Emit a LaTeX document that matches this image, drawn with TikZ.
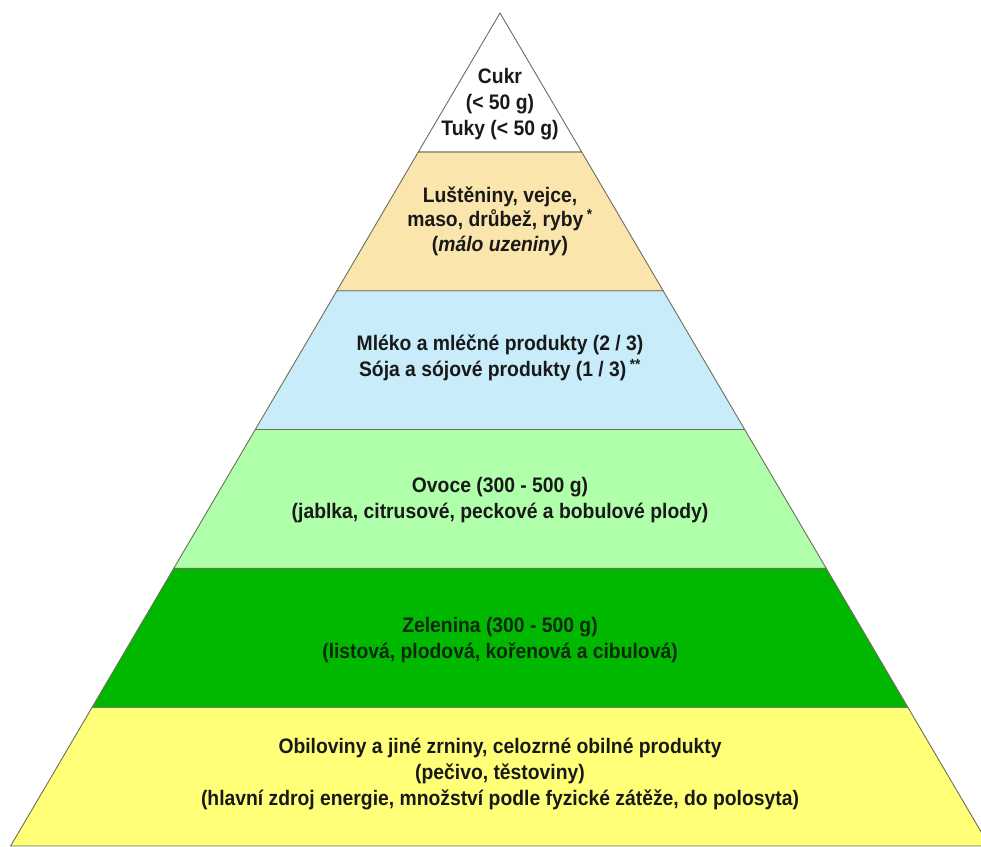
\documentclass[tikz,border=0pt]{standalone}
\usepackage{fontspec}
\setmainfont[FakeStretch=0.92]{Liberation Sans}
\definecolor{txt}{RGB}{25,25,25}
\definecolor{vegtxt}{RGB}{10,40,10}
\definecolor{tan}{RGB}{250,230,172}
\definecolor{lblue}{RGB}{200,236,250}
\definecolor{lgreen}{RGB}{176,255,170}
\definecolor{dgreen}{RGB}{0,184,0}
\definecolor{yel}{RGB}{255,255,120}
\definecolor{edge}{RGB}{110,110,90}
\begin{document}
\begin{tikzpicture}[x=1pt,y=-1pt,
  layer/.style={draw=edge, line width=0.9pt, line join=round},
  lbl/.style={align=center, font=\fontsize{21}{26}\selectfont\bfseries, text=txt, inner sep=0pt}]
\useasboundingbox (0,0) rectangle (981,846);
\clip (0,0) rectangle (981,846);
\fill[white] (0,0) rectangle (981,846);
% layers
\filldraw[layer, fill=yel] (92.2,707.2) -- (10.6,846) -- (989.4,846) -- (907.8,707.2) -- cycle;
\filldraw[layer, fill=dgreen] (173.8,568.3) -- (92.2,707.2) -- (907.8,707.2) -- (826.2,568.3) -- cycle;
\filldraw[layer, fill=lgreen] (255.3,429.5) -- (173.8,568.3) -- (826.2,568.3) -- (744.7,429.5) -- cycle;
\filldraw[layer, fill=lblue] (336.9,290.7) -- (255.3,429.5) -- (744.7,429.5) -- (663.1,290.7) -- cycle;
\filldraw[layer, fill=tan] (418.4,151.8) -- (336.9,290.7) -- (663.1,290.7) -- (581.6,151.8) -- cycle;
\filldraw[layer, fill=white] (500,13) -- (418.4,151.8) -- (581.6,151.8) -- cycle;
% labels
\node[lbl] (top) at (500,104) {Cukr\\(< 50 g)\\Tuky (< 50 g)};
\node[lbl, font=\fontsize{21}{24.5}\selectfont\bfseries] (meat) at (500,221) {Luštěniny, vejce,\\maso, drůbež, ryby\,\textsuperscript{*}\\(\textit{málo uzeniny})};
\node[lbl] (milk) at (500,358) {Mléko a mléčné produkty (2 / 3)\\Sója a sójové produkty (1 / 3)\,\textsuperscript{**}};
\node[lbl] (fruit) at (500,500) {Ovoce (300 - 500 g)\\(jablka, citrusové, peckové a bobulové plody)};
\node[lbl, text=vegtxt] (veg) at (500,640) {Zelenina (300 - 500 g)\\(listová, plodová, kořenová a cibulová)};
\node[lbl] (grain) at (500,774) {Obiloviny a jiné zrniny, celozrné obilné produkty\\(pečivo, těstoviny)\\(hlavní zdroj energie, množství podle fyzické zátěže, do polosyta)};
\end{tikzpicture}
\end{document}
